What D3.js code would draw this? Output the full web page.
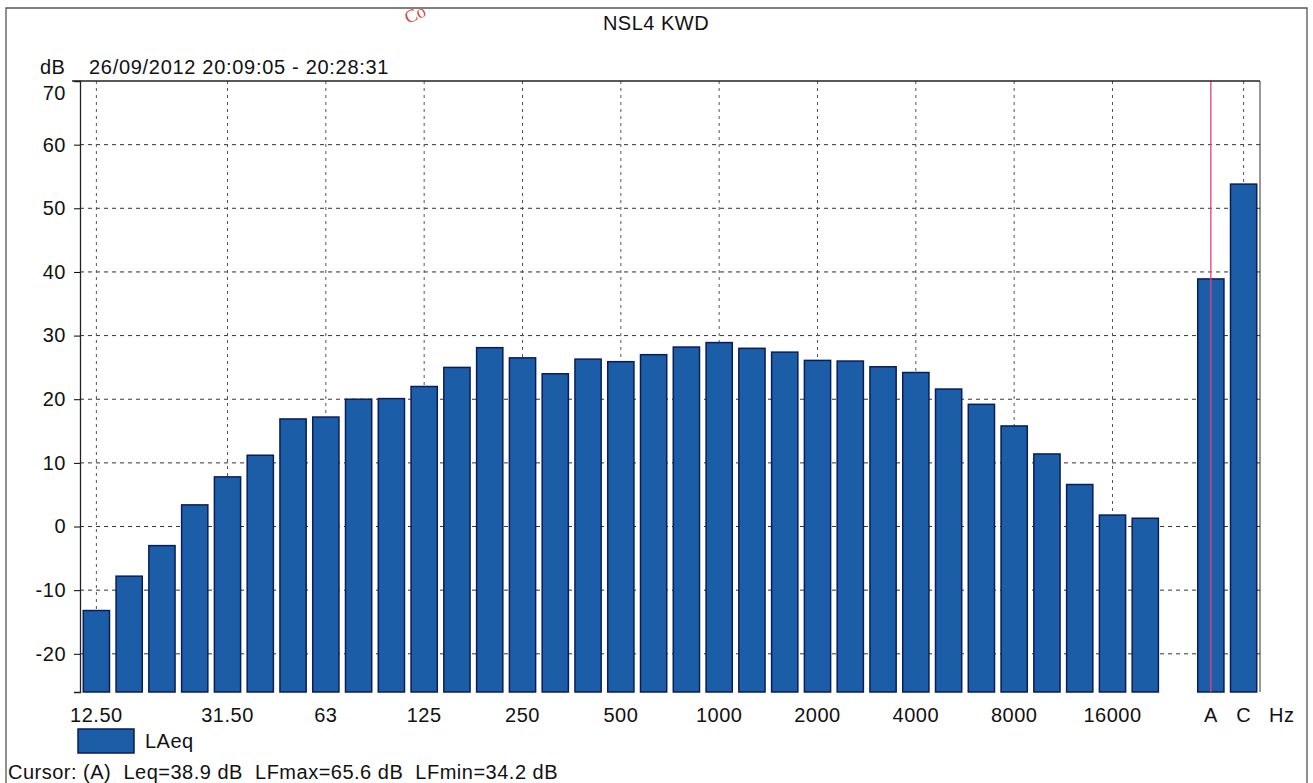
<!DOCTYPE html>
<html>
<head>
<meta charset="utf-8">
<script src="https://cdn.jsdelivr.net/npm/d3@7"></script>
<style>
body { margin: 0; background: #fff; }
text { font-family: "Liberation Sans", Arial, sans-serif; fill: #111; font-size: 20px; letter-spacing: 0.5px; }
</style>
</head>
<body>
<div id="chart"></div>
<script>
// one-third octave bands, then an empty slot, then the A and C totals
var bands = ["12.5","16","20","25","31.5","40","50","63","80","100","125","160","200","250","315","400","500","630","800","1000","1250","1600","2000","2500","3150","4000","5000","6300","8000","10000","12500","16000","20000","gap","A","C"];
var laeq = [-13.2,-7.8,-3.0,3.4,7.8,11.2,16.9,17.2,20.0,20.1,22.0,25.0,28.1,26.5,24.0,26.3,25.9,27.0,28.2,28.9,28.0,27.4,26.1,26.0,25.1,24.2,21.6,19.2,15.8,11.4,6.6,1.8,1.3,null,38.9,53.8];
var tickBands = ["12.5","31.5","63","125","250","500","1000","2000","4000","8000","16000","A","C"];
var tickText = ["12.50","31.50","63","125","250","500","1000","2000","4000","8000","16000","A","C"];
var yTicks = [-20,-10,0,10,20,30,40,50,60,70];

var svgWidth = 1313;
var svgHeight = 783;
var margin = {top: 81, right: 53, bottom: 91, left: 80};
var width = svgWidth - margin.left - margin.right;
var height = svgHeight - margin.top - margin.bottom;

var svg = d3.select("#chart")
    .append("svg")
    .attr("width", svgWidth)
    .attr("height", svgHeight);

// scanned page frame
svg.append("path")
    .attr("d", "M6,783 L6,8 L1307,8 L1307,783")
    .attr("fill", "none")
    .attr("stroke", "#555")
    .attr("stroke-width", 1.3);

svg.append("text")
    .attr("transform", "translate(408,24) rotate(-25)")
    .style("font-family", "'Liberation Serif', serif")
    .style("font-size", "18px")
    .style("letter-spacing", "0px")
    .style("fill", "#d24a3a")
    .text("Co");

var chartGroup = svg.append("g")
    .attr("transform", `translate(${margin.left},${margin.top})`);

var xScale = d3.scaleBand()
    .domain(bands)
    .range([0, width])
    .paddingInner(0.2)
    .paddingOuter(0.1);

var yScale = d3.scaleLinear()
    .domain([-26, 70])
    .range([height, 0]);

// horizontal grid
chartGroup.append("g")
    .selectAll("line")
    .data(yTicks.filter(d => d < 70))
    .enter()
    .append("line")
    .attr("x1", 0)
    .attr("x2", width)
    .attr("y1", d => yScale(d))
    .attr("y2", d => yScale(d))
    .attr("stroke", "#333")
    .attr("stroke-width", 1)
    .attr("stroke-dasharray", "4,4");

// vertical grid at labelled bands (A is the cursor)
chartGroup.append("g")
    .selectAll("line")
    .data(tickBands.filter(d => d != "A"))
    .enter()
    .append("line")
    .attr("x1", d => xScale(d) + xScale.bandwidth() / 2)
    .attr("x2", d => xScale(d) + xScale.bandwidth() / 2)
    .attr("y1", 0)
    .attr("y2", height)
    .attr("stroke", "#555")
    .attr("stroke-width", 1)
    .attr("stroke-dasharray", "3,4");

var barData = bands.map((b, i) => ({band: b, value: laeq[i]})).filter(d => d.value !== null);

chartGroup.selectAll("rect.bar")
    .data(barData)
    .enter()
    .append("rect")
    .classed("bar", true)
    .attr("x", d => xScale(d.band))
    .attr("width", xScale.bandwidth())
    .attr("y", d => yScale(d.value))
    .attr("height", d => height - yScale(d.value))
    .attr("fill", "#1b5ea7")
    .attr("stroke", "#0b1d58")
    .attr("stroke-width", 1.5);

// cursor line on A
chartGroup.append("line")
    .attr("x1", xScale("A") + xScale.bandwidth() / 2)
    .attr("x2", xScale("A") + xScale.bandwidth() / 2)
    .attr("y1", 0)
    .attr("y2", height)
    .attr("stroke", "#e4407a")
    .attr("stroke-width", 1.3);

// frame: top line, right edge
chartGroup.append("line")
    .attr("x1", -8).attr("x2", width)
    .attr("y1", 0).attr("y2", 0)
    .attr("stroke", "#222").attr("stroke-width", 1.3);
chartGroup.append("line")
    .attr("x1", width).attr("x2", width)
    .attr("y1", 0).attr("y2", height)
    .attr("stroke", "#333").attr("stroke-width", 1);

var leftAxis = d3.axisLeft(yScale)
    .tickValues(yTicks.filter(d => d < 70))
    .tickFormat(d => String(d))
    .tickSize(6)
    .tickPadding(8);

var yAxis = chartGroup.append("g")
    .call(leftAxis);
yAxis.select(".domain").attr("stroke", "#222").attr("stroke-width", 1.3);
yAxis.selectAll("text")
    .style("font-size", "20px")
    .attr("fill", "#111");

// 70 label sits below the top line
chartGroup.append("text")
    .attr("x", -14)
    .attr("y", yScale(70) + 19)
    .attr("text-anchor", "end")
    .text("70");

// band labels
chartGroup.selectAll("text.xlabel")
    .data(tickBands)
    .enter()
    .append("text")
    .classed("xlabel", true)
    .attr("x", d => xScale(d) + xScale.bandwidth() / 2)
    .attr("y", height + 30)
    .attr("text-anchor", "middle")
    .text((d, i) => tickText[i]);

chartGroup.append("text")
    .attr("x", width + 9)
    .attr("y", height + 30)
    .text("Hz");

// title and header
svg.append("text")
    .attr("x", 656)
    .attr("y", 30)
    .attr("text-anchor", "middle")
    .text("NSL4 KWD");

svg.append("text")
    .attr("x", 40)
    .attr("y", 74)
    .text("dB");

svg.append("text")
    .attr("x", 89)
    .attr("y", 74)
    .style("letter-spacing", "0.7px")
    .text("26/09/2012 20:09:05 - 20:28:31");

// legend
svg.append("rect")
    .attr("x", 78)
    .attr("y", 729)
    .attr("width", 56)
    .attr("height", 24)
    .attr("fill", "#1b5ea7")
    .attr("stroke", "#0b1d58")
    .attr("stroke-width", 1.5);

svg.append("text")
    .attr("x", 145)
    .attr("y", 748)
    .text("LAeq");

svg.append("text")
    .attr("x", 8)
    .attr("y", 779)
    .attr("xml:space", "preserve")
    .style("white-space", "pre")
    .text("Cursor: (A)  Leq=38.9 dB  LFmax=65.6 dB  LFmin=34.2 dB");
</script>
</body>
</html>
